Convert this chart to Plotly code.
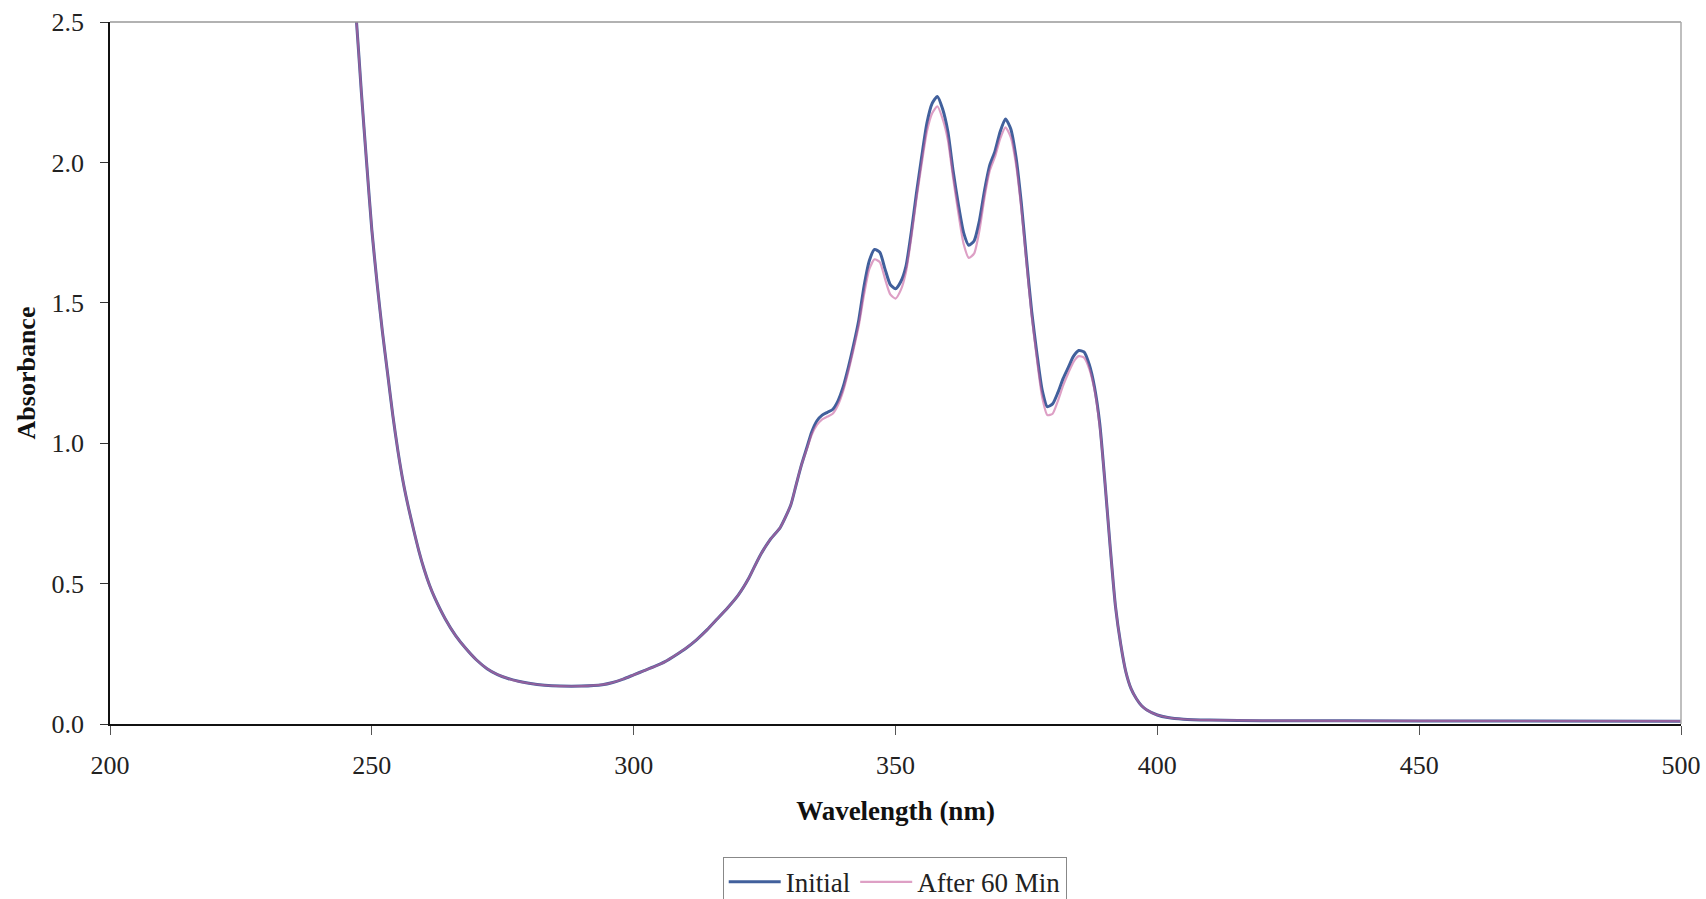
import plotly.graph_objects as go

wavelength = [245, 246, 247, 248, 249, 250, 251, 252, 253, 254, 255, 256, 257, 258, 259, 260,
              261, 262, 264, 266, 268, 270, 272, 274, 276, 278, 280, 283, 286, 290, 294, 296,
              298, 300, 302, 304, 306, 308, 310, 312, 314, 316, 318, 320, 322, 324, 326, 328,
              330, 331, 332, 333, 334, 335, 336, 337, 338, 339, 340, 341, 342, 343, 344, 345,
              346, 347, 348, 349, 350, 351, 352, 353, 354, 355, 356, 357, 358, 359, 360, 361,
              362, 363, 364, 365, 366, 367, 368, 369, 370, 371, 372, 373, 374, 375, 376, 377,
              378, 379, 380, 381, 382, 383, 384, 385, 386, 387, 388, 389, 390, 391, 392, 393,
              394, 395, 396, 397, 398, 400, 402, 405, 410, 420, 450, 500]

initial = [2.95, 2.72, 2.52, 2.25, 2.00, 1.76, 1.57, 1.40, 1.25, 1.10, 0.97, 0.86, 0.77, 0.69, 0.615, 0.55,
           0.495, 0.45, 0.375, 0.315, 0.268, 0.228, 0.197, 0.176, 0.162, 0.152, 0.145, 0.138, 0.135, 0.135, 0.140, 0.148,
           0.160, 0.175, 0.19, 0.205, 0.222, 0.245, 0.27, 0.30, 0.335, 0.375, 0.415, 0.46, 0.52, 0.595, 0.655, 0.70,
           0.78, 0.85, 0.92, 0.98, 1.04, 1.08, 1.10, 1.11, 1.12, 1.15, 1.20, 1.27, 1.35, 1.44, 1.56, 1.65,
           1.69, 1.68, 1.62, 1.565, 1.55, 1.575, 1.63, 1.75, 1.89, 2.02, 2.14, 2.21, 2.235, 2.19, 2.11, 1.97,
           1.85, 1.75, 1.705, 1.72, 1.79, 1.90, 1.99, 2.04, 2.11, 2.155, 2.12, 2.02, 1.86, 1.66, 1.47, 1.32,
           1.19, 1.13, 1.14, 1.18, 1.23, 1.27, 1.31, 1.33, 1.325, 1.28, 1.20, 1.07, 0.86, 0.63, 0.42, 0.285,
           0.185, 0.125, 0.09, 0.065, 0.05, 0.032, 0.023, 0.017, 0.014, 0.012, 0.011, 0.010]

after_60 = [2.95, 2.72, 2.52, 2.25, 2.00, 1.76, 1.57, 1.40, 1.25, 1.10, 0.97, 0.86, 0.77, 0.69, 0.615, 0.55,
            0.495, 0.45, 0.375, 0.315, 0.268, 0.228, 0.197, 0.176, 0.162, 0.152, 0.145, 0.138, 0.135, 0.135, 0.140, 0.148,
            0.160, 0.175, 0.19, 0.205, 0.222, 0.245, 0.27, 0.30, 0.335, 0.375, 0.415, 0.46, 0.52, 0.595, 0.655, 0.70,
            0.78, 0.85, 0.92, 0.975, 1.03, 1.065, 1.085, 1.095, 1.105, 1.135, 1.185, 1.255, 1.335, 1.42, 1.53, 1.62,
            1.655, 1.645, 1.585, 1.53, 1.515, 1.545, 1.61, 1.73, 1.87, 1.995, 2.11, 2.175, 2.20, 2.155, 2.08, 1.945,
            1.82, 1.71, 1.66, 1.675, 1.755, 1.875, 1.97, 2.02, 2.085, 2.125, 2.09, 1.995, 1.84, 1.645, 1.455, 1.30,
            1.165, 1.10, 1.105, 1.15, 1.205, 1.25, 1.29, 1.31, 1.305, 1.265, 1.19, 1.06, 0.86, 0.63, 0.42, 0.285,
            0.185, 0.125, 0.09, 0.065, 0.05, 0.032, 0.023, 0.017, 0.014, 0.012, 0.011, 0.010]

x_ticks = [200, 250, 300, 350, 400, 450, 500]
y_ticks = [0.0, 0.5, 1.0, 1.5, 2.0, 2.5]

FONT = "Liberation Serif, Times New Roman, serif"

fig = go.Figure()
fig.add_trace(go.Scatter(x=wavelength, y=initial, mode="lines", name="Initial",
                         line=dict(color="#41609c", width=3.0, shape="spline", smoothing=0.6)))
fig.add_trace(go.Scatter(x=wavelength, y=after_60, mode="lines", name="After 60 Min",
                         opacity=0.6,
                         line=dict(color="#c8609f", width=2.2, shape="spline", smoothing=0.6)))

fig.update_layout(
    width=1706, height=899,
    margin=dict(l=110, r=25, t=22, b=175, autoexpand=False),
    paper_bgcolor="white", plot_bgcolor="white",
    font=dict(family=FONT, size=26, color="#222"),
    showlegend=True,
    legend=dict(orientation="h", x=0.4995, xanchor="center",
                yref="container", y=0.047, yanchor="top",
                bordercolor="#888", borderwidth=1, font=dict(size=27, family=FONT, color="#222"),
                itemwidth=52, tracegroupgap=0),
    shapes=[
        dict(type="line", xref="paper", yref="paper", x0=0, x1=1, y0=1, y1=1,
             line=dict(color="#999", width=1.5)),
        dict(type="line", xref="paper", yref="paper", x0=1, x1=1, y0=0, y1=1,
             line=dict(color="#aaa", width=1.5)),
    ],
)

fig.update_xaxes(range=[200, 500], tickvals=x_ticks, showgrid=False, zeroline=False,
                 automargin=False,
                 showline=True, linecolor="#111", linewidth=1.5,
                 ticks="outside", ticklen=9, tickcolor="#555", tickwidth=1,
                 ticklabelstandoff=8,
                 title=dict(text="<b>Wavelength (nm)</b>", font=dict(size=27, family=FONT, color="#111"),
                            standoff=22))
fig.update_yaxes(range=[0, 2.5], tickvals=y_ticks, tickformat=".1f", showgrid=False, zeroline=False,
                 automargin=False,
                 showline=True, linecolor="#111", linewidth=1.5,
                 ticks="outside", ticklen=8, tickcolor="#333", tickwidth=1,
                 ticklabelstandoff=11,
                 title=dict(text="<b>Absorbance</b>", font=dict(size=26, family=FONT, color="#111"),
                            standoff=8))

fig.write_html("out.html")
